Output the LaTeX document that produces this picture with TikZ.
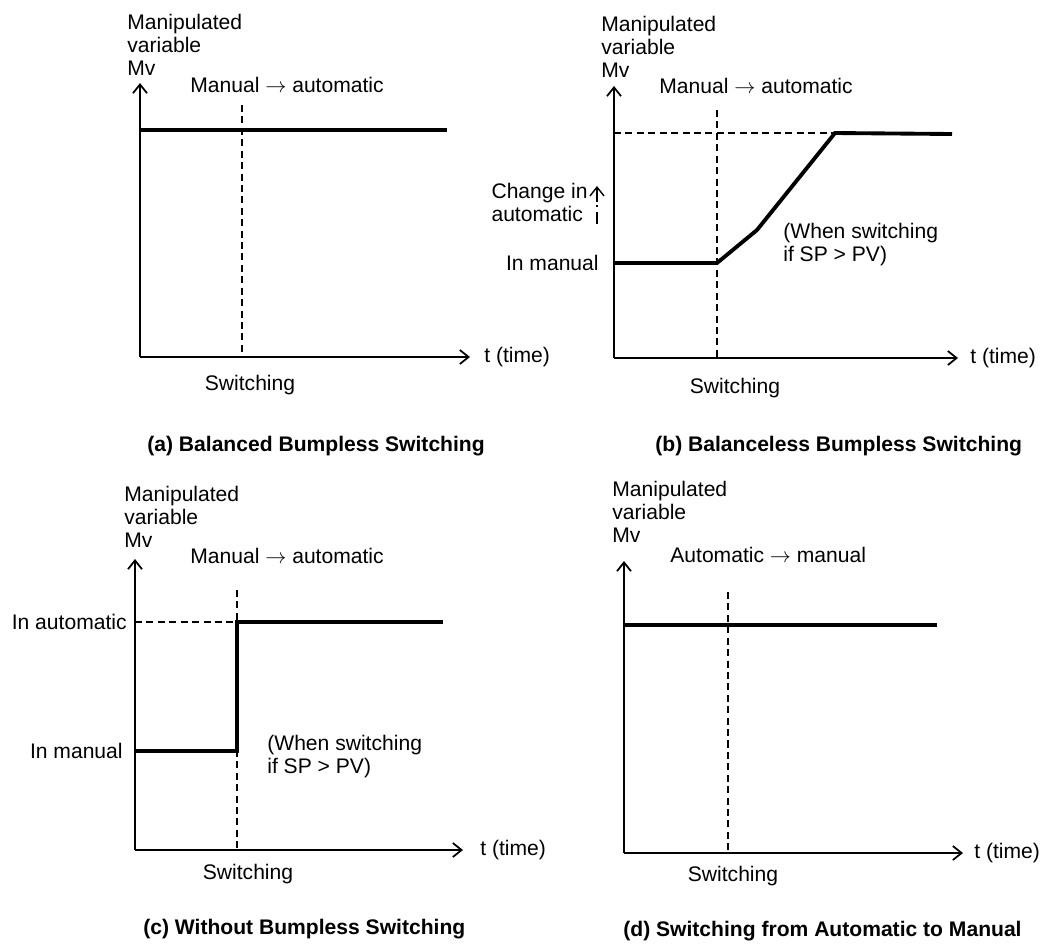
\documentclass[tikz,border=0pt]{standalone}
\usepackage{fontspec}
\setmainfont{Liberation Sans}
\usetikzlibrary{arrows.meta}

\tikzset{
    axisline/.style={line width=1pt, ->},
    mvline/.style={line width=2.2pt},
    guideline/.style={line width=0.7pt, dash pattern=on 4pt off 2.5pt},
    txt/.style={font=\fontsize{12}{13}\selectfont, inner sep=0pt, align=left},
    capt/.style={font=\fontsize{12}{13}\selectfont\bfseries, inner sep=0pt}
}

\begin{document}
\begin{tikzpicture}[line cap=butt, line join=miter, x=0.02cm, y=-0.02cm,
        >={Straight Barb[length=5pt,width=8pt]}]
    \useasboundingbox (0,0) rectangle (1042,944);

    % (a) balanced
    \coordinate (oa) at (140,357);
    \coordinate (ya) at (140,83);
    \coordinate (xa) at (470,357);
    \draw[axisline] (oa) -- (ya);
    \draw[axisline] (oa) -- (xa);
    \draw[guideline] (242,105) -- (242,357);
    \draw[mvline] (140,130) -- (447,130);

    \node[txt, anchor=north west] (mva) at (127,14) {Manipulated\\variable\\Mv};
    \node[txt, anchor=base west] (moda) at (190,92) {Manual $\rightarrow$ automatic};
    \node[txt, anchor=west] (ta) at (484,357) {t (time)};
    \node[txt] (swa) at (250,385) {Switching};
    \node[capt, anchor=west] (capa) at (147,446) {(a) Balanced Bumpless Switching};

    % (b) balanceless
    \coordinate (ob) at (614,358);
    \coordinate (yb) at (614,86);
    \coordinate (xb) at (958,358);
    \draw[axisline] (ob) -- (yb);
    \draw[axisline] (ob) -- (xb);
    \draw[guideline] (614,133) -- (835,133);
    \draw[guideline] (717,110) -- (717,358);
    \draw[mvline] (614,263) -- (717,263) -- (757,230) -- (835,133) -- (952,134);

    \node[txt, anchor=north west] (mvb) at (601,16) {Manipulated\\variable\\Mv};
    \node[txt, anchor=base west] (modb) at (659,93) {Manual $\rightarrow$ automatic};
    \node[txt, anchor=north east] (chb) at (588,183) {Change in\\automatic};
    \coordinate (chtop) at (597,186);
    \coordinate (chbot) at (597,224);
    \draw[<-, line width=0.8pt, dash pattern=on 8pt off 2pt on 1pt off 3pt] (chtop) -- (chbot);
    \node[txt, anchor=east] (manb) at (599,263) {In manual};
    \node[txt, anchor=north west] (spb) at (783,223) {(When switching\\if SP > PV)};
    \node[txt, anchor=west] (tb) at (970,358) {t (time)};
    \node[txt] (swb) at (735,388) {Switching};
    \node[capt, anchor=west] (capb) at (655,446) {(b) Balanceless Bumpless Switching};

    % (c) without bumpless
    \coordinate (oc) at (135,850);
    \coordinate (yc) at (135,559);
    \coordinate (xc) at (463,850);
    \draw[axisline] (oc) -- (yc);
    \draw[axisline] (oc) -- (xc);
    \draw[guideline] (135,622) -- (237,622);
    \draw[guideline] (237,590) -- (237,850);
    \draw[mvline] (135,751) -- (237,751) -- (237,622) -- (443,622);

    \node[txt, anchor=north west] (mvc) at (124,486) {Manipulated\\variable\\Mv};
    \node[txt, anchor=base west] (modc) at (190,563) {Manual $\rightarrow$ automatic};
    \node[txt, anchor=east] (autc) at (127,622) {In automatic};
    \node[txt, anchor=east] (manc) at (123,751) {In manual};
    \node[txt, anchor=north west] (spc) at (267,735) {(When switching\\if SP > PV)};
    \node[txt, anchor=west] (tc) at (480,850) {t (time)};
    \node[txt] (swc) at (248,874) {Switching};
    \node[capt, anchor=west] (capc) at (143,929) {(c) Without Bumpless Switching};

    % (d) automatic to manual
    \coordinate (od) at (624,853);
    \coordinate (yd) at (624,561);
    \coordinate (xd) at (963,853);
    \draw[axisline] (od) -- (yd);
    \draw[axisline] (od) -- (xd);
    \draw[guideline] (728,592) -- (728,853);
    \draw[mvline] (624,625) -- (937,625);

    \node[txt, anchor=north west] (mvd) at (612,481) {Manipulated\\variable\\Mv};
    \node[txt, anchor=base west] (modd) at (670,562) {Automatic $\rightarrow$ manual};
    \node[txt, anchor=west] (td) at (974,853) {t (time)};
    \node[txt] (swd) at (733,876) {Switching};
    \node[capt, anchor=west] (capd) at (623,931) {(d) Switching from Automatic to Manual};

\end{tikzpicture}
\end{document}
